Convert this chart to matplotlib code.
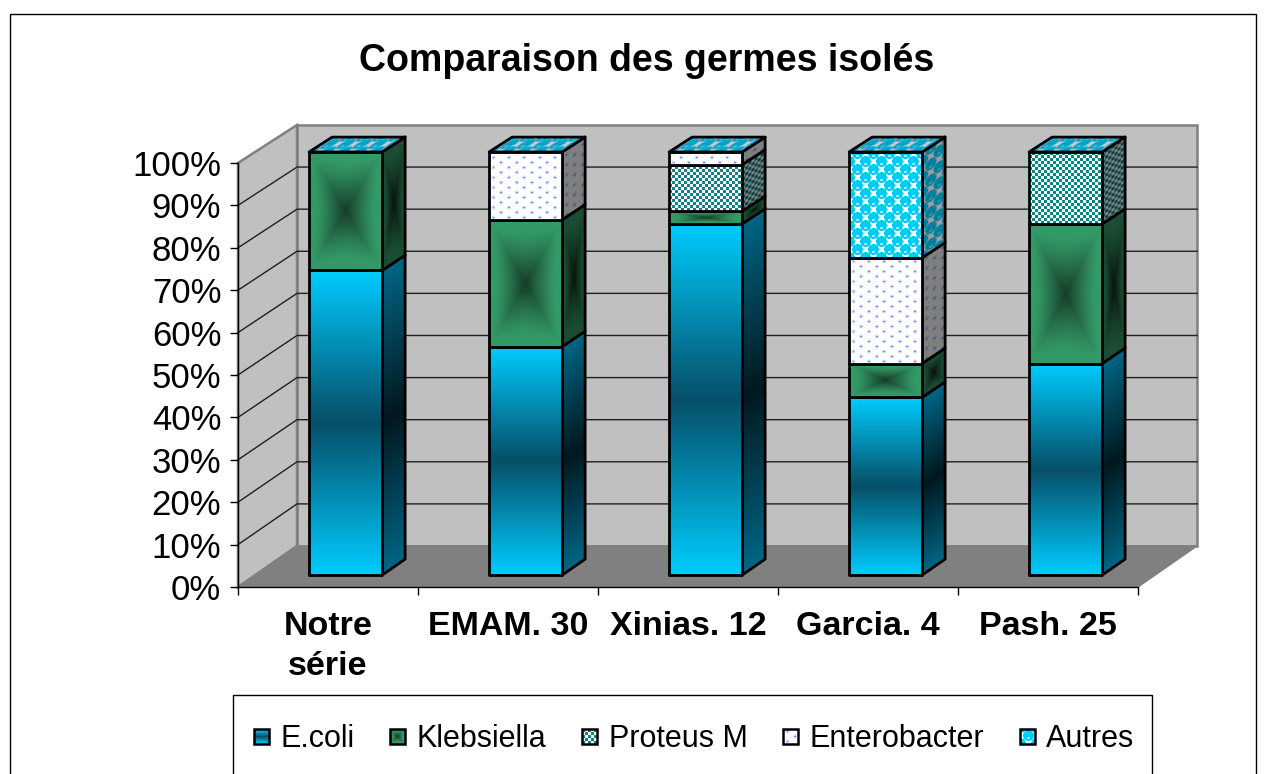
import numpy as np
import matplotlib
matplotlib.use('Agg')
import matplotlib.pyplot as plt
from matplotlib.legend_handler import HandlerBase
from matplotlib.patches import Patch, Polygon, Rectangle
from matplotlib.transforms import Affine2D

plt.rcParams['font.family'] = ['Liberation Sans', 'DejaVu Sans']

W, H = 1268, 774

# --- data (percent) ---
categories   = ['Notre\nsérie', 'EMAM. 30', 'Xinias. 12', 'Garcia. 4', 'Pash. 25']
series_names = ['E.coli', 'Klebsiella', 'Proteus M', 'Enterobacter', 'Autres']
ecoli        = [72, 54, 83, 42, 50]
klebsiella   = [28, 30, 3, 8, 33]
proteus      = [0, 0, 11, 0, 17]
enterobacter = [0, 16, 3, 25, 0]
autres       = [0, 0, 0, 25, 0]
yticks       = [0, 10, 20, 30, 40, 50, 60, 70, 80, 90, 100]

# front plane of the chart box, in pixels
AX_L, AX_R, AX_T, AX_B = 238, 1138, 163, 587
PX_X = (AX_R - AX_L) / 5
PX_Y = (AX_B - AX_T) / 100
# oblique depth, in data units
DX = 59 / PX_X
DY = 41 / PX_Y
SHRINK = 0.007  # back wall is a little shorter than the front
BAR_W = 73 / PX_X
BAR_X0 = 0.3
D0, D1 = 0.29, 0.68


def proj(x, y, d):
    return x + d * DX, y * (1 - SHRINK * d) + d * DY


def lerp(a, b, t):
    a, b = np.array(a, float) / 255, np.array(b, float) / 255
    return a + (b - a) * t[..., None]


def tex_ecoli(w, h, side=False):
    v = np.linspace(-1, 1, h)[:, None] * np.ones((h, w))
    t = 1 - np.abs(v)
    if side:
        return lerp((0, 102, 133), (2, 24, 31), t)
    return lerp((0, 204, 255), (6, 79, 104), t)


def tex_kleb(w, h, side=False):
    u = np.abs(np.linspace(-1, 1, w))[None, :] * np.ones((h, w))
    v = np.abs(np.linspace(-1, 1, h))[:, None] * np.ones((h, w))
    d = np.maximum(u, v) - 0.12 * np.minimum(u, v)
    t = np.clip(1 - d / 0.8, 0, 1) ** 1.2
    if side:
        return lerp((26, 77, 51), (8, 18, 12), t)
    return lerp((51, 153, 102), (22, 60, 40), t)


def tex_checker(w, h, shade=1.0):
    yy, xx = np.mgrid[0:h, 0:w]
    on = ((xx // 3 + yy // 3) % 2) == 0
    img = np.ones((h, w, 3))
    img[on] = np.array((8, 134, 134)) / 255
    return img * shade


def tex_dots(w, h, shade=1.0):
    yy, xx = np.mgrid[0:h, 0:w]
    xo = (xx + 7.7 * ((yy // 5) % 2)) % 15.4
    yo = yy % 5
    d = np.hypot(xo - 4, yo - 2)
    img = lerp((255, 255, 255), (205, 218, 255), np.clip(2.4 - d, 0, 1))
    img[d < 1.0] = np.array((110, 135, 245)) / 255
    return img * shade


def tex_balls(w, h, shade=1.0):
    yy, xx = np.mgrid[0:h, 0:w]
    img = np.ones((h, w, 3))
    for oy in (0, 8):
        rowy = (yy + oy) % 16
        xr = (xx + oy) % 16
        d = np.hypot(xr - 8, rowy - 8)
        img[d < 6.0] = np.array((170, 235, 255)) / 255
        img[d < 5.2] = np.array((0, 204, 255)) / 255
        hl = np.hypot((xr - 8) / 2.0, (rowy - 5.5) / 0.8) < 1
        img[hl] = np.array((150, 230, 255)) / 255
    return img * shade


textures = [tex_ecoli, tex_kleb, tex_checker, tex_dots, tex_balls]
side_shades = {2: 0.5, 3: 0.5, 4: 0.62}


def face(ax, p00, p10, p01, img, z):
    """draw img on the parallelogram p00 / p10 / p01 with one black outline"""
    p00, p10, p01 = map(np.array, (p00, p10, p01))
    mat = np.array([[p10[0] - p00[0], p01[0] - p00[0], p00[0]],
                    [p10[1] - p00[1], p01[1] - p00[1], p00[1]],
                    [0, 0, 1]])
    im = ax.imshow(img, extent=(0, 1, 0, 1), origin='lower', aspect='auto', interpolation='bilinear',
                   transform=Affine2D(mat) + ax.transData, zorder=z)
    outline = Polygon([p00, p10, p10 + p01 - p00, p01], closed=True, fill=False,
                      ec='black', lw=2.0, zorder=z + 0.1, clip_on=False, joinstyle='round')
    ax.add_patch(outline)
    # a sheared image paints black corners outside its own parallelogram
    im.set_clip_path(outline)
    im.set_clip_box(fig.bbox)


def side_tex(i, w, h):
    if i < 2:
        return textures[i](w, h, side=True)
    return textures[i](w, h, shade=side_shades[i])


def front_tex(i, w, h):
    return textures[i](w, h)


class SwatchHandler(HandlerBase):
    def __init__(self, index):
        super().__init__()
        self.index = index

    def create_artists(self, legend, orig_handle, xdescent, ydescent, width, height, fontsize, trans):
        n = 15
        img = textures[self.index](n, n)
        size = n * 72 / 100
        x0 = -xdescent + (width - size) / 2
        y0 = -ydescent + (height - size) / 2
        cell = size / n
        arts = []
        for r in range(n):
            for c in range(n):
                arts.append(Rectangle((x0 + c * cell, y0 + r * cell), cell, cell, fc=img[r, c],
                                      ec='none', lw=0, transform=trans, antialiased=False))
        arts.append(Rectangle((x0, y0), size, size, fill=False, ec='black', lw=1.8, transform=trans))
        return arts


fig = plt.figure(figsize=(W / 100, H / 100), dpi=100, facecolor='white')
ax = fig.add_axes([AX_L / W, 1 - AX_B / H, (AX_R - AX_L) / W, (AX_B - AX_T) / H])
ax.patch.set_visible(False)
ax.set_xlim(0, 5)
ax.set_ylim(0, 100)
ax.autoscale(False)

# outer frame and legend box, both run off the bottom of the picture
fig.add_artist(Rectangle((9.5 / W, -0.1), (1256 - 9.5) / W, 1.1 - 14.5 / H, fill=False, ec='black',
                         lw=1.0, transform=fig.transFigure))
fig.add_artist(Rectangle((232.5 / W, -0.1), (1152 - 232.5) / W, 0.1 + 1 - 695.5 / H, fill=False, ec='black',
                         lw=1.0, transform=fig.transFigure))

# walls and floor
wall_back = [proj(0, 0, 1), proj(5, 0, 1), proj(5, 100, 1), proj(0, 100, 1)]
wall_left = [proj(0, 0, 0), proj(0, 0, 1), proj(0, 100, 1), proj(0, 100, 0)]
floor = [proj(0, 0, 0), proj(5, 0, 0), proj(5, 0, 1), proj(0, 0, 1)]
ax.add_patch(Polygon(wall_back, fc='#c0c0c0', ec='#808080', lw=1.8, zorder=1, clip_on=False))
ax.add_patch(Polygon(wall_left, fc='#c0c0c0', ec='#808080', lw=1.8, zorder=1, clip_on=False))
ax.add_patch(Polygon(floor, fc='#808080', ec='#808080', lw=1.0, zorder=1.1, clip_on=False))

for yt in yticks[1:-1]:
    pts = [proj(0, yt, 0), proj(0, yt, 1), proj(5, yt, 1)]
    ax.plot(*zip(*pts), color='#202020', lw=1.0, zorder=1.2, clip_on=False)

# stacked columns
stack = [ecoli, klebsiella, proteus, enterobacter, autres]
z = 3
for k in range(len(categories)):
    x0 = k + BAR_X0
    x1 = x0 + BAR_W
    base = 0
    for i, vals in enumerate(stack):
        v = vals[k]
        if v == 0:
            continue
        top = base + v
        h_px = max(int(round(v * PX_Y)), 2)
        face(ax, proj(x1, base, D0), proj(x1, base, D1), proj(x1, top, D0), side_tex(i, 23, h_px), z)
        face(ax, proj(x0, base, D0), proj(x1, base, D0), proj(x0, top, D0), front_tex(i, 73, h_px), z + 1)
        z += 2
        base = top
    # the empty last series still paints the lid of the column
    face(ax, proj(x0, 100, D0), proj(x1, 100, D0), proj(x0, 100, D1), tex_balls(73, 16, shade=0.8), z)
    z += 1

ax.set_xlim(0, 5)
ax.set_ylim(0, 100)

# axes
for s in ('top', 'right'):
    ax.spines[s].set_visible(False)
for s in ('left', 'bottom'):
    ax.spines[s].set_linewidth(1.0)
    ax.spines[s].set_zorder(2.5)
ax.set_yticks(yticks)
ax.set_yticklabels([f'{t}%' for t in yticks], fontsize=25)
ax.tick_params(axis='y', length=6, width=1.0, pad=6)
ax.set_xticks(range(6))
ax.set_xticklabels([])
ax.tick_params(axis='x', which='major', length=6, width=1.0)
ax.set_xticks(np.arange(5) + 0.5, minor=True)
ax.set_xticklabels(categories, minor=True, fontsize=24.5, fontweight='bold', linespacing=1.4)
ax.tick_params(axis='x', which='minor', length=0, pad=17)

fig.text(647 / W, 1 - 61 / H, 'Comparaison des germes isolés', ha='center', va='center',
         fontsize=27, fontweight='bold')

handles = [Patch(label=n) for n in series_names]
leg = ax.legend(handles=handles, handler_map={h: SwatchHandler(i) for i, h in enumerate(handles)},
                ncol=5, loc='center', bbox_to_anchor=(694 / W, 1 - 739 / H), bbox_transform=fig.transFigure,
                fontsize=22, frameon=False, borderpad=0, handlelength=0.52, handletextpad=0.36,
                columnspacing=1.15, borderaxespad=0)
leg.set_zorder(50)

fig.savefig('out.png', dpi=100)
